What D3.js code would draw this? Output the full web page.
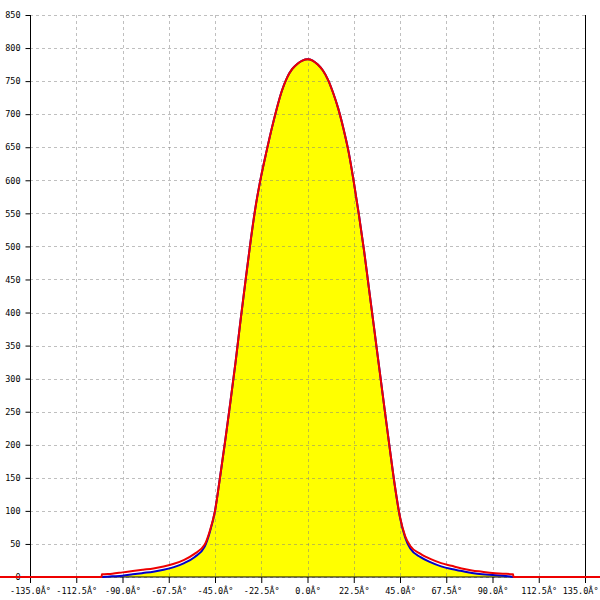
<!DOCTYPE html>
<html><head><meta charset="utf-8">
<script src="https://cdn.jsdelivr.net/npm/d3@7"></script>
<style>
html,body{margin:0;padding:0;background:#fff;}
svg text{font-family:"DejaVu Sans Mono",monospace;font-size:8.5px;fill:#000;}
</style></head>
<body>
<svg id="chart" width="600" height="600"></svg>
<script>
const angles = [-100,-95,-90,-85,-80,-75,-70,-65,-60,-55,-50,-47.5,-45,-42.5,-40,-37.5,-35,-32.5,-30,-27.5,-25,-22.5,-20,-17.5,-15,-12.5,-10,-7.5,-5,-2.5,0,2.5,5,7.5,10,12.5,15,17.5,20,22.5,25,27.5,30,32.5,35,37.5,40,42.5,45,47.5,50,55,60,65,70,75,80,85,90,95,100];
const blueValues = [0,1,2,4,6,8,11,15,21,30,46,68,100,152,207,265,325,390,452,512,565,607,643,677,708,735,755,768,776,781,783,781,775,766,752,732,708,678,643,598,548,494,434,374,314,254,195,138,90,60,43,30,22,16,12,9,6,4,3,2,0];
const redValues = [4,5,7,9,11,13,16,20,26,35,49,70,100,152,207,265,325,390,452,512,565,607,643,677,708,735,755,768,776,781,783,781,775,766,752,732,708,678,643,598,548,494,434,374,314,254,195,138,91,62,47,35,27,21,17,13,10,8,6,5,4];
const redLeadAngles = [-180,-100.2];
const redTrailAngles = [100.2,180];
const xTicks = [-135,-112.5,-90,-67.5,-45,-22.5,0,22.5,45,67.5,90,112.5,135];
const yTicks = d3.range(0, 851, 50);

const svg = d3.select("#chart");
const W = 600;
const L = 30, R = 585, T = 15, B = 577;
const x = d3.scaleLinear().domain([-135,135]).range([L,R]);
const y = d3.scaleLinear().domain([0,850]).range([B,T]);

const bluePts = angles.map((a,i)=>[a, blueValues[i]]);
const redPts = redLeadAngles.map(a=>[a,0])
  .concat(angles.map((a,i)=>[a, redValues[i]]))
  .concat(redTrailAngles.map(a=>[a,0]));

// fill
svg.append("path")
  .attr("d", d3.area().x(d=>x(d[0])).y0(y(0)).y1(d=>y(d[1])).curve(d3.curveMonotoneX)(bluePts))
  .attr("fill","#ffff00");

// grid
const grid = svg.append("g").attr("stroke","#808080").attr("stroke-opacity",0.5).attr("stroke-dasharray","3,3").attr("shape-rendering","crispEdges");
grid.selectAll("line.h").data(yTicks).join("line")
  .attr("x1",L).attr("x2",R).attr("y1",d=>Math.round(y(d))+0.5).attr("y2",d=>Math.round(y(d))+0.5);
grid.selectAll("line.v").data(xTicks).join("line")
  .attr("y1",T).attr("y2",B).attr("x1",d=>Math.round(x(d))+0.5).attr("x2",d=>Math.round(x(d))+0.5);

// axes
const yAxis = d3.axisLeft(y).tickValues(yTicks).tickSize(5).tickPadding(5).tickFormat(d=>String(d));
const gy = svg.append("g").attr("transform",`translate(${L+0.5},0)`).call(yAxis);
gy.select(".domain").attr("d",`M0,${T}V${B+6}`).attr("stroke","#000");
gy.selectAll("text").style("font-family","DejaVu Sans Mono").style("font-size","8.5px");

svg.append("line").attr("x1",R+0.5).attr("x2",R+0.5).attr("y1",T).attr("y2",B).attr("stroke","#000");

const xAxis = d3.axisBottom(x).tickValues(xTicks).tickSize(6).tickPadding(5).tickFormat(d=>d.toFixed(1)+"Â°");
const gx = svg.append("g").attr("transform",`translate(0,${B})`).call(xAxis);
gx.select(".domain").attr("d",`M${L},0H${R}`).attr("stroke","#000");
gx.selectAll("text").style("font-family","DejaVu Sans Mono").style("font-size","8.5px");
// keep the last label inside the page, as the reference does
gx.selectAll(".tick").filter(d=>d===xTicks[xTicks.length-1]).select("text")
  .attr("text-anchor","end").attr("x", W - 2 - x(xTicks[xTicks.length-1]));

// lines
const line = d3.line().x(d=>x(d[0])).y(d=>y(d[1])).curve(d3.curveMonotoneX);
svg.append("path").attr("d", line(bluePts)).attr("fill","none").attr("stroke","#0000cc").attr("stroke-width",2);
svg.append("path").attr("d", line(redPts)).attr("fill","none").attr("stroke","#ee0000").attr("stroke-width",2);
</script>
</body></html>
